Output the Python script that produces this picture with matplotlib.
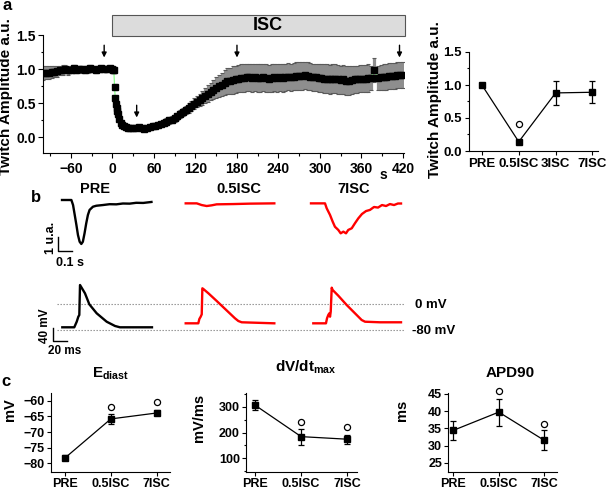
import matplotlib
matplotlib.use('Agg')
import matplotlib.pyplot as plt
from matplotlib.patches import Rectangle
from matplotlib.ticker import MultipleLocator, FixedLocator
import matplotlib.transforms as mtransforms

plt.rcParams['font.family'] = ['Liberation Sans', 'DejaVu Sans']
plt.rcParams['font.weight'] = 'bold'
plt.rcParams['mathtext.fontset'] = 'custom'
plt.rcParams['mathtext.rm'] = 'Liberation Sans'
plt.rcParams['mathtext.bf'] = 'Liberation Sans:bold'
plt.rcParams['axes.linewidth'] = 0.8

# ---------------- DATA ----------------
# Panel a: time course of twitch amplitude (s, a.u.)
time_s = [-100, -96, -92, -88, -84, -80, -76, -72, -68, -64, -60, -56, -52, -48, -44, -40,
          -36, -32, -28, -24, -20, -16, -12, -8, -4, 0,
          1, 2, 3, 4, 5, 6, 7, 8, 10, 12, 14, 16, 19, 22, 26, 30, 34, 38, 42, 46, 50, 54,
          58, 62, 66, 70, 74, 78, 82, 86, 90, 94, 98, 102, 106, 110, 114, 118, 122, 126,
          130, 134, 138, 142, 146, 150, 154, 158, 162, 166, 170, 174, 178, 182, 186, 190,
          194, 198, 202, 206, 210, 214, 218, 222, 226, 230, 234, 238, 242, 246, 250, 254,
          258, 262, 266, 270, 274, 278, 282, 286, 290, 294, 298, 302, 306, 310, 314, 318,
          322, 326, 330, 334, 338, 342, 346, 350, 354, 358, 362, 366, 370, 374, 378, 384,
          388, 392, 396, 400, 404, 408, 412, 416, 420]
amp_mean = [0.94, 0.95, 0.95, 0.96, 0.96, 0.97, 0.98, 0.99, 1.00, 0.98, 0.99, 1.01, 0.99, 1.00, 1.00, 0.99,
            1.00, 1.01, 1.00, 0.99, 1.00, 1.01, 1.00, 1.00, 1.01, 1.00,
            0.99, 0.98, 0.74, 0.58, 0.49, 0.43, 0.38, 0.34, 0.27, 0.21, 0.18, 0.16, 0.15, 0.14, 0.14, 0.14, 0.14, 0.15, 0.13, 0.12, 0.14, 0.15,
            0.16, 0.17, 0.18, 0.20, 0.21, 0.23, 0.25, 0.26, 0.28, 0.31, 0.34, 0.37, 0.40, 0.43, 0.46, 0.49, 0.52, 0.55,
            0.58, 0.61, 0.64, 0.67, 0.70, 0.73, 0.75, 0.77, 0.80, 0.82, 0.83, 0.84, 0.85, 0.86, 0.87, 0.87,
            0.88, 0.88, 0.87, 0.88, 0.87, 0.87, 0.88, 0.87, 0.86, 0.87, 0.88, 0.87, 0.88, 0.87, 0.88, 0.89,
            0.88, 0.89, 0.90, 0.90, 0.90, 0.91, 0.90, 0.89, 0.88, 0.88, 0.87, 0.87, 0.86, 0.86, 0.85, 0.86,
            0.86, 0.85, 0.84, 0.85, 0.83, 0.83, 0.84, 0.85, 0.85, 0.86, 0.86, 0.86, 0.87, 0.87, 0.99, 0.87,
            0.88, 0.89, 0.89, 0.90, 0.90, 0.90, 0.91, 0.91, 0.92]
amp_err = [0.10, 0.10, 0.09, 0.09, 0.08, 0.08, 0.07, 0.07, 0.06, 0.06, 0.05, 0.05, 0.05, 0.05, 0.05, 0.05,
           0.05, 0.05, 0.04, 0.04, 0.04, 0.04, 0.04, 0.04, 0.04, 0.04,
           0.04, 0.04, 0.04, 0.03, 0.03, 0.03, 0.03, 0.03, 0.03, 0.03, 0.03, 0.03, 0.03, 0.03, 0.03, 0.03, 0.03, 0.03, 0.03, 0.03, 0.03, 0.03,
           0.04, 0.04, 0.04, 0.04, 0.04, 0.05, 0.05, 0.05, 0.05, 0.05, 0.06, 0.06, 0.06, 0.07, 0.07, 0.08, 0.08, 0.09,
           0.10, 0.11, 0.12, 0.13, 0.14, 0.15, 0.16, 0.17, 0.18, 0.19, 0.19, 0.20, 0.20, 0.20, 0.20, 0.20,
           0.20, 0.20, 0.20, 0.20, 0.20, 0.20, 0.20, 0.20, 0.20, 0.20, 0.20, 0.20, 0.20, 0.20, 0.20, 0.20,
           0.20, 0.20, 0.20, 0.20, 0.20, 0.20, 0.20, 0.20, 0.20, 0.20, 0.20, 0.21, 0.21, 0.21, 0.21, 0.21,
           0.21, 0.21, 0.21, 0.21, 0.21, 0.21, 0.20, 0.20, 0.20, 0.20, 0.20, 0.20, 0.20, 0.18, 0.18, 0.18,
           0.18, 0.19, 0.19, 0.19, 0.19, 0.19, 0.19, 0.19, 0.19]
arrow_times = [-12, 35, 180, 415]
arrow_levels = [1.35, 0.47, 1.35, 1.35]

# Panel a (right): summary
sum_cats = ['PRE', '0.5ISC', '3ISC', '7ISC']
sum_mean = [1.00, 0.14, 0.88, 0.89]
sum_err = [0.0, 0.0, 0.185, 0.17]
sum_sig_idx = [1]
sum_sig_val = [0.41]

# Panel b: traces  (twitch: s, u.a. ; AP: ms, mV)
tw_titles = ['PRE', '0.5ISC', '7ISC']
tw_colors = ['black', '#ff0000', '#ff0000']
tw_pre_t = [0, 0.067, 0.079, 0.091, 0.103, 0.114, 0.126, 0.138, 0.149, 0.161, 0.173, 0.185, 0.197,
            0.221, 0.245, 0.292, 0.34, 0.388, 0.435, 0.483, 0.53, 0.58, 0.639]
tw_pre_v = [0, 0, -0.36, -1.07, -1.79, -2.5, -2.98, -3.14, -2.98, -2.38, -1.67, -1.07, -0.71,
            -0.48, -0.41, -0.36, -0.30, -0.31, -0.25, -0.26, -0.2, -0.21, -0.14]
tw_05_t = [0, 0.079, 0.114, 0.15, 0.186, 0.221, 0.34, 0.459, 0.633]
tw_05_v = [-0.24, -0.24, -0.36, -0.43, -0.38, -0.31, -0.29, -0.26, -0.24]
tw_7_t = [0, 0.1, 0.112, 0.136, 0.155, 0.171, 0.195, 0.212, 0.231, 0.25, 0.266, 0.291, 0.314,
          0.338, 0.364, 0.393, 0.421, 0.45, 0.479, 0.507, 0.536, 0.564, 0.593, 0.621, 0.643]
tw_7_v = [-0.24, -0.24, -0.59, -1.07, -1.55, -1.91, -2.14, -2.38, -2.26, -2.38, -2.14, -2.02, -1.66,
          -1.31, -1.0, -0.79, -0.71, -0.5, -0.54, -0.36, -0.43, -0.29, -0.36, -0.25, -0.25]

ap_pre_t = [0, 17.1, 20.6, 22.9, 24.3, 25.3, 32.4, 38.6, 49.1, 63.4, 75.3, 82.4, 128.1]
ap_pre_v = [-71.6, -71.6, -54.2, -38.6, -33.3, 60.1, 34.2, 0, -28, -54.2, -67.5, -71.6, -71.6]
ap_05_t = [0, 18, 19.5, 21.4, 22.9, 23.8, 25.2, 32.4, 44.3, 70.4, 75.2, 80, 126.6]
ap_05_v = [-59.2, -59.2, -45.8, -38.6, -31.2, 49.8, 47.7, 34.3, 10.3, -43.6, -52, -56, -59.2]
ap_7_t = [0, 18.1, 19.6, 21.4, 22.9, 23.9, 24.9, 26.3, 27.7, 35.7, 47.7, 69.1, 73.9, 95.3, 125.3]
ap_7_v = [-59.2, -59.2, -43.6, -33.3, -28, -38.6, -23, 51.7, 44.5, 26.8, -2.2, -48.9, -54.2, -56, -56]
ref_levels_mV = [0, -80]
ref_labels = ['0 mV', '-80 mV']

# Panel c: AP parameters
c_cats = ['PRE', '0.5ISC', '7ISC']
ed_mean = [-78.3, -65.8, -63.9]
ed_err = [0.8, 1.6, 0.8]
ed_sig = [None, -62.1, -60.3]
dv_mean = [306, 184, 174]
dv_err = [20, 31, 17]
dv_sig = [None, 242, 222]
apd_mean = [34.4, 39.7, 31.5]
apd_err = [2.8, 3.95, 2.9]
apd_sig = [None, 45.8, 36.3]

# ---------------- FIGURE ----------------
W, H = 609, 490
fig = plt.figure(figsize=(W / 100, H / 100), dpi=100)


def add_ax(x0, y0, x1, y1):
    return fig.add_axes([x0 / W, 1 - y1 / H, (x1 - x0) / W, (y1 - y0) / H])


def ftext(x, y, s, **kw):
    return fig.text(x / W, 1 - y / H, s, **kw)


def style(ax, fs, pad=2):
    for sp in ['top', 'right']:
        ax.spines[sp].set_visible(False)
    ax.tick_params(which='major', direction='out', length=3, width=0.8, labelsize=fs, pad=pad)
    ax.tick_params(which='minor', direction='out', length=1.8, width=0.8)
    for lab in ax.get_xticklabels() + ax.get_yticklabels():
        lab.set_fontweight('bold')


# ---- panel a main ----
axa = add_ax(43.3, 35, 404, 153.3)
axa.errorbar(time_s, amp_mean, yerr=amp_err, fmt='none', ecolor='#8e8e8e',
             elinewidth=2.3, capsize=0, zorder=1)
lo = [m - e for m, e in zip(amp_mean, amp_err)]
hi = [m + e for m, e in zip(amp_mean, amp_err)]
axa.plot(time_s, lo, '_', color='#5a5a5a', ms=3, mew=0.8, zorder=1.5)
axa.plot(time_s, hi, '_', color='#5a5a5a', ms=3, mew=0.8, zorder=1.5)
axa.plot(time_s, amp_mean, color='#80ff80', lw=0.8, zorder=2)
axa.plot(time_s, amp_mean, 's', color='black', ms=4.0, mec='black', zorder=3)
axa.set_xlim(-100, 421.5)
axa.set_ylim(-0.235, 1.5)
axa.xaxis.set_major_locator(FixedLocator(list(range(-60, 421, 60))))
axa.xaxis.set_minor_locator(MultipleLocator(30))
axa.yaxis.set_major_locator(FixedLocator([0.0, 0.5, 1.0, 1.5]))
axa.yaxis.set_minor_locator(MultipleLocator(0.25))
axa.set_yticklabels(['0.0', '0.5', '1.0', '1.5'])
style(axa, 10)
axa.tick_params(which='major', length=3.5)
axa.tick_params(axis='x', pad=3)
for xt, yl in zip(arrow_times, arrow_levels):
    axa.annotate('', xy=(xt, yl - 0.18), xytext=(xt, yl),
                 arrowprops=dict(arrowstyle='-|>', color='black', lw=1.0, mutation_scale=7,
                                 shrinkA=0, shrinkB=0), annotation_clip=False)
trans = mtransforms.blended_transform_factory(axa.transData, axa.transAxes)
axa.add_patch(Rectangle((0, 0.99), 423, 0.178, transform=trans, facecolor='#dcdcdc',
                        edgecolor='#555555', lw=0.8, clip_on=False))
axa.text(224, 1.08, 'ISC', transform=trans, ha='center', va='center', fontsize=13, fontweight='bold')
ftext(383, 175, 's', ha='center', va='center', fontsize=10, fontweight='bold')
ftext(6, 97, 'Twitch Amplitude a.u.', rotation=90, ha='center', va='center', fontsize=11, fontweight='bold')
ftext(7, 6, 'a', ha='center', va='center', fontsize=12, fontweight='bold')

# ---- panel a right ----
axs = add_ax(469, 52, 598, 151)
xs = list(range(len(sum_cats)))
axs.errorbar(xs, sum_mean, yerr=sum_err, fmt='s-', color='black', ms=3.8, lw=0.9,
             elinewidth=0.9, capsize=2.2, capthick=0.9, clip_on=False)
axs.plot([xs[i] for i in sum_sig_idx], sum_sig_val, 'o', mfc='white', mec='black', ms=4.4, mew=0.9)
axs.set_xlim(-0.35, 3.15)
axs.set_ylim(0, 1.5)
axs.set_xticks(xs)
axs.set_xticklabels(sum_cats)
axs.yaxis.set_major_locator(FixedLocator([0.0, 0.5, 1.0, 1.5]))
axs.yaxis.set_minor_locator(MultipleLocator(0.25))
axs.set_yticklabels(['0.0', '0.5', '1.0', '1.5'])
style(axs, 9.5)
ftext(435.5, 100, 'Twitch Amplitude a.u.', rotation=90, ha='center', va='center', fontsize=11, fontweight='bold')

# ---- panel b: twitch traces ----
axt = add_ax(40, 180, 420, 275)
axt.set_xlim(0, 380 / 140)
axt.set_ylim(-75 / 14, 20 / 14)
axt.axis('off')
tw_offsets = [22 / 140, 145.7 / 140, 271 / 140]
for (tt, vv), off, col in zip([(tw_pre_t, tw_pre_v), (tw_05_t, tw_05_v), (tw_7_t, tw_7_v)],
                              tw_offsets, tw_colors):
    axt.plot([t + off for t in tt], vv, color=col, lw=1.7, solid_joinstyle='round')
sb_x = 18 / 140
sb_y = -(251 - 200) / 14
axt.plot([sb_x, sb_x, sb_x + 0.1], [sb_y + 1, sb_y, sb_y], color='black', lw=1.0, clip_on=False)
ftext(51.5, 238, '1 u.a.', rotation=90, ha='center', va='center', fontsize=9, fontweight='bold')
ftext(70, 263, '0.1 s', ha='center', va='center', fontsize=9, fontweight='bold')
for title, xc in zip(tw_titles, [95, 239, 354]):
    ftext(xc, 193, title, ha='center', va='baseline', fontsize=10.5, fontweight='bold')
ftext(36, 198, 'b', ha='center', va='center', fontsize=12, fontweight='bold')

# ---- panel b: AP traces ----
axp = add_ax(40, 278, 420, 360)
axp.set_xlim(0, 380 / 0.7)
axp.set_ylim(-55.7 / 0.32125, 26.3 / 0.32125)
axp.axis('off')
ap_offsets = [22.3 / 0.7, 145.7 / 0.7, 273.3 / 0.7]
for (tt, vv), off, col in zip([(ap_pre_t, ap_pre_v), (ap_05_t, ap_05_v), (ap_7_t, ap_7_v)],
                              ap_offsets, tw_colors):
    axp.plot([t + off for t in tt], vv, color=col, lw=1.7, solid_joinstyle='round')
for lvl in ref_levels_mV:
    axp.plot([17 / 0.7, 364 / 0.7], [lvl, lvl], color='#8a8a8a', lw=0.8, ls=(0, (1.2, 1.5)), zorder=0)
ftext(415, 304.5, ref_labels[0], ha='left', va='center', fontsize=9.5, fontweight='bold')
ftext(412, 331, ref_labels[1], ha='left', va='center', fontsize=9.5, fontweight='bold')
sbx = 13 / 0.7
sby = (304.3 - 341) / 0.32125
axp.plot([sbx, sbx, sbx + 20], [sby + 40, sby, sby], color='black', lw=1.0, clip_on=False)
ftext(45, 326, '40 mV', rotation=90, ha='center', va='center', fontsize=8.5, fontweight='bold')
ftext(65, 351, '20 ms', ha='center', va='center', fontsize=8.5, fontweight='bold')


# ---- panel c ----
def cpanel(box, mean, err, sig, xlim, ylim, yticks, minor=None):
    ax = add_ax(*box)
    x = list(range(len(mean)))
    ax.errorbar(x, mean, yerr=err, fmt='s-', color='black', ms=3.8, lw=0.9,
                elinewidth=0.9, capsize=2.2, capthick=0.9, clip_on=False, zorder=3)
    sx = [i for i, s in enumerate(sig) if s is not None]
    sy = [s for s in sig if s is not None]
    ax.plot(sx, sy, 'o', mfc='white', mec='black', ms=4.4, mew=0.9, clip_on=False)
    ax.set_xlim(*xlim)
    ax.set_ylim(*ylim)
    ax.set_xticks(x)
    ax.set_xticklabels(c_cats)
    ax.set_yticks(yticks)
    if minor is not None:
        ax.yaxis.set_minor_locator(MultipleLocator(minor))
    style(ax, 9, pad=1.5)
    return ax


ax1 = cpanel((51, 393, 170, 472), ed_mean, ed_err, ed_sig, (-0.305, 2.29),
             (-82.8, -57.5), [-80, -75, -70, -65, -60])
ax2 = cpanel((246, 393, 357, 472), dv_mean, dv_err, dv_sig, (-0.195, 2.21),
             (47, 353), [100, 200, 300], minor=50)
ax3 = cpanel((448.3, 392.5, 557, 472), apd_mean, apd_err, apd_sig, (-0.11, 2.28),
             (22.3, 45.4), [25, 30, 35, 40, 45])

ftext(111, 377, r'$\mathbf{E}_{\mathbf{diast}}$', ha='center', va='baseline', fontsize=11)
ftext(306, 371, r'$\mathbf{dV/dt}_{\mathrm{max}}$', ha='center', va='baseline', fontsize=11)
ftext(510, 377, 'APD90', ha='center', va='baseline', fontsize=11, fontweight='bold')
ftext(10, 410, 'mV', rotation=90, ha='center', va='center', fontsize=10.5, fontweight='bold')
ftext(199, 418, 'mV/ms', rotation=90, ha='center', va='center', fontsize=10.5, fontweight='bold')
ftext(402, 410, 'ms', rotation=90, ha='center', va='center', fontsize=10.5, fontweight='bold')
ftext(6, 381, 'c', ha='center', va='center', fontsize=12, fontweight='bold')

fig.savefig('out.png', dpi=100)
